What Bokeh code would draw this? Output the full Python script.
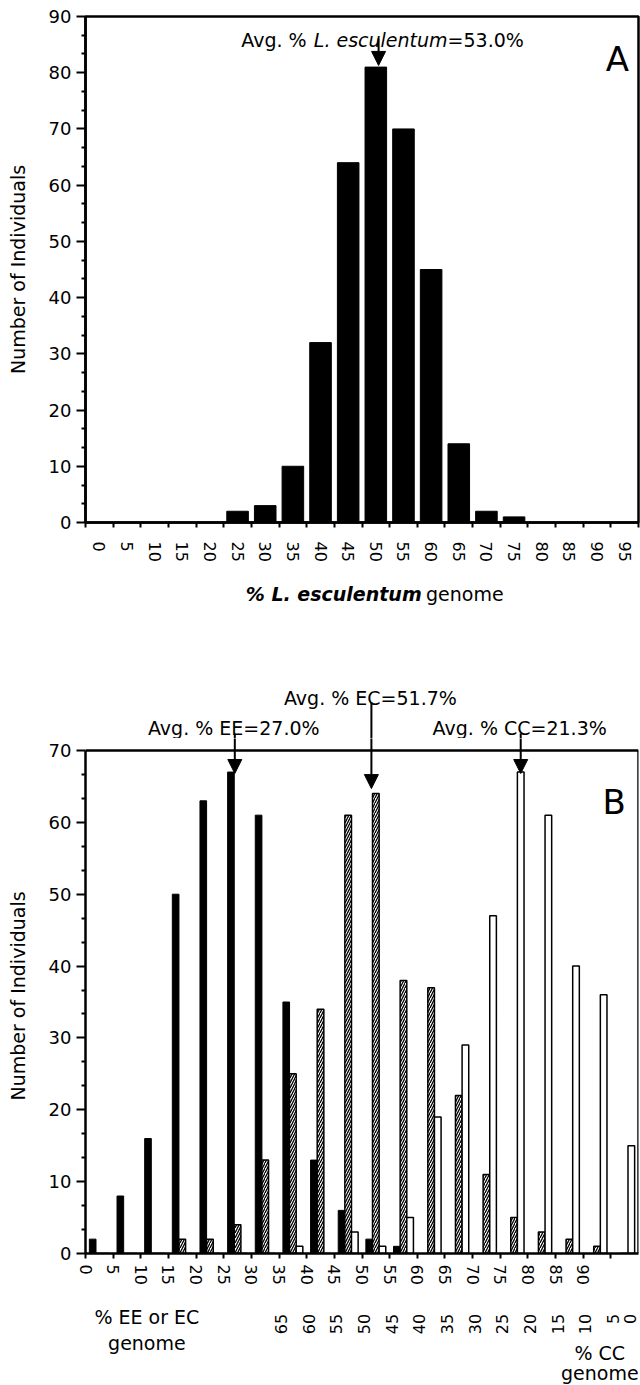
import math
from bokeh.plotting import figure
from bokeh.models import Range1d, FixedTicker, Label, Arrow, NormalHead
from bokeh.layouts import column
from bokeh.embed import file_html
from bokeh.resources import INLINE

FONT = "DejaVu Sans"

# ------------------------------------------------------------------ data
bins = [0, 5, 10, 15, 20, 25, 30, 35, 40, 45, 50, 55, 60, 65, 70, 75, 80, 85, 90, 95]
bin_labels = [str(b) for b in bins]

# Panel A : number of individuals per % L. esculentum genome class
a_counts = [0, 0, 0, 0, 0, 2, 3, 10, 32, 64, 81, 70, 45, 14, 2, 1, 0, 0, 0, 0]
a_avg = 53.0
a_avg_text = "53.0%"

# Panel B : EE (black), EC (hatched), CC (open) classes, by axis position
ee_counts = [2, 8, 16, 50, 63, 67, 61, 35, 13, 6, 2, 1, 0, 0, 0, 0, 0, 0, 0, 0]
ec_counts = [0, 0, 0, 2, 2, 4, 13, 25, 34, 61, 64, 38, 37, 22, 11, 5, 3, 2, 1, 0]
cc_counts = [0, 0, 0, 0, 0, 0, 0, 1, 0, 3, 1, 5, 19, 29, 47, 67, 61, 40, 36, 15]
cc_positions = [35, 40, 45, 50, 55, 60, 65, 70, 75, 80, 85, 90, 95, 100]
cc_labels = ["65", "60", "55", "50", "45", "40", "35", "30", "25", "20", "15", "10", "5", "0"]
ee_avg = 27.0
ec_avg = 51.7
cc_avg = 21.3

# ------------------------------------------------------------------ layout (pixels)
W = 640
LEFT, RIGHT = 85, 2
A_TOP, A_FRAME_H, A_FIG_H = 16, 506, 565
TA_H = 55
TB_H = 118
B_EXTRA = 12                  # frame space above the 70 line
B_FRAME_H_DATA = 503          # pixel height of the 0..70 part
B_BOTTOM = 40
PB_H = B_EXTRA + B_FRAME_H_DATA + B_BOTTOM
BB_H = 1385 - A_FIG_H - TA_H - TB_H - PB_H

A_YMAX, B_YMAX = 90, 70
ppy_a = A_FRAME_H / A_YMAX
ppy_b = B_FRAME_H_DATA / B_YMAX

ADV = {' ': 651, '%': 1946, '.': 651, '=': 1716, 'A': 1401, 'B': 1405, 'C': 1430,
       'E': 1294, 'L': 1141, 'a': 1255, 'c': 1126, 'e': 1260, 'g': 1300, 'l': 569,
       'm': 1995, 'n': 1298, 'o': 1253, 's': 1067, 't': 803, 'u': 1298, 'v': 1212}
for d in "0123456789":
    ADV[d] = 1303


def tw(s, size, bold=False):
    return sum(ADV.get(c, 1250) for c in s) / 2048.0 * size * (1.1 if bold else 1.0)


TXT = 19
TICK = "16px"


def lab(p, x, y, text, size=TXT, align="center", style="normal", xoff=0, angle=0,
        baseline="alphabetic"):
    p.add_layout(Label(x=x, y=y, text=text, x_offset=xoff, text_align=align,
                       text_baseline=baseline, text_font=FONT,
                       text_font_size=f"{size}px", text_font_style=style,
                       text_color="black", angle=angle))


def arrow(p, x, y0, y1, head=True):
    p.add_layout(Arrow(x_start=x, y_start=y0, x_end=x, y_end=y1, line_width=2,
                       line_color="black",
                       end=NormalHead(size=14, fill_color="black", line_color="black") if head else None))


def strip(height, y0, y1):
    p = figure(width=W, height=height, title=None,
               x_range=Range1d(0, 100), y_range=Range1d(y0, y1),
               x_axis_location=None, y_axis_location=None, min_border=0,
               min_border_left=LEFT, min_border_right=RIGHT,
               output_backend="svg", toolbar_location=None)
    p.outline_line_color = None
    p.grid.visible = False
    return p


def base_fig(height, top, bottom, ytop, ymax):
    p = figure(width=W, height=height, title=None,
               x_range=Range1d(0, 100), y_range=Range1d(0, ytop),
               output_backend="svg", toolbar_location=None,
               min_border_left=LEFT, min_border_right=RIGHT, min_border_top=top,
               min_border_bottom=bottom)
    p.xgrid.visible = False
    p.ygrid.visible = False
    p.outline_line_color = "black"
    p.outline_line_width = 2.5
    p.outline_line_alpha = 1
    ya = p.yaxis[0]
    ya.bounds = (0, ymax)
    ya.ticker = FixedTicker(ticks=list(range(0, ymax + 1, 10)),
                            minor_ticks=[i * 10 / 3 for i in range(int(ymax * 3 / 10) + 1) if i % 3])
    ya.axis_line_width = 2.5
    ya.major_tick_out = 9
    ya.major_tick_in = 0
    ya.major_tick_line_width = 2
    ya.minor_tick_out = 4
    ya.minor_tick_in = 0
    ya.minor_tick_line_width = 2
    ya.major_label_text_font = FONT
    ya.major_label_text_font_size = "18px"
    ya.major_label_text_color = "black"
    ya.major_label_standoff = 5
    ya.axis_label = "Number of Individuals"
    ya.axis_label_text_font = FONT
    ya.axis_label_text_font_size = f"{TXT}px"
    ya.axis_label_text_font_style = "normal"
    ya.axis_label_text_color = "black"
    ya.axis_label_standoff = 17
    xa = p.xaxis[0]
    xa.axis_line_width = 2.5
    xa.major_label_text_font = FONT
    xa.major_label_text_font_size = TICK
    xa.major_label_text_color = "black"
    xa.major_label_orientation = "vertical"
    return p


# ------------------------------------------------------------------ panel A
pa = base_fig(A_FIG_H, A_TOP, A_FIG_H - A_TOP - A_FRAME_H, A_YMAX, A_YMAX)
pa.vbar(x=[b + 2.5 for b in bins], top=a_counts, width=3.9,
        fill_color="black", line_color="black", line_width=1)
xa = pa.xaxis[0]
xa.ticker = FixedTicker(ticks=[b + 2.5 for b in bins], minor_ticks=bins + [100])
xa.major_label_overrides = {b + 2.5: s for b, s in zip(bins, bin_labels)}
xa.major_tick_out = 0
xa.major_tick_in = 0
xa.minor_tick_out = 5
xa.minor_tick_in = 0
xa.minor_tick_line_width = 2
xa.major_label_standoff = 14

p1, p2, p3 = "Avg. %", "L. esculentum", "=" + a_avg_text
w1, w2, w3 = tw(p1 + " ", TXT), tw(p2, TXT), tw(p3, TXT)
st = -(w1 + w2 + w3) / 2 + 4
lab(pa, a_avg, 85.9, p1, align="left", xoff=st)
lab(pa, a_avg, 85.9, p2, align="left", style="italic", xoff=st + w1)
lab(pa, a_avg, 85.9, p3, align="left", xoff=st + w1 + w2)
arrow(pa, a_avg, 86.1, 81.3)
lab(pa, 96.2, 82.5, "A", size=34)

# strip under A: axis title (mixed styles)
ya_top = -(A_FIG_H - A_TOP - A_FRAME_H) / ppy_a
ta = strip(TA_H, ya_top - TA_H / ppy_a, ya_top)
q1, q2 = "% L. esculentum", "genome"
v1, v2 = tw(q1 + " ", TXT, bold=True), tw(q2, TXT)
xs = -(v1 + v2) / 2
lab(ta, 52.3, -12.63, q1, align="left", style="bold italic", xoff=xs)
lab(ta, 52.3, -12.63, q2, align="left", xoff=xs + v1)

# ------------------------------------------------------------------ panel B
b_ytop = B_YMAX + B_EXTRA / ppy_b

# strip above B: averages text and upper part of the arrows
tb = strip(TB_H, b_ytop, b_ytop + TB_H / ppy_b)

pb = base_fig(PB_H, 0, B_BOTTOM, b_ytop, B_YMAX)
pb.outline_line_color = None
# frame box of the 0..70 region (top and right sides)
pb.segment(x0=[0, 100], y0=[B_YMAX, 0], x1=[100, 100], y1=[B_YMAX, B_YMAX],
           line_color="black", line_width=2.5)

bw = 1.2
pb.vbar(x=[b + 1.3 for b in bins], top=ee_counts, width=bw,
        fill_color="black", line_color="black", line_width=1)
pb.vbar(x=[b + 2.5 for b in bins], top=ec_counts, width=bw,
        fill_color="white", line_color="black", line_width=1.5,
        hatch_pattern="/", hatch_color="black", hatch_scale=5, hatch_weight=1.3)
pb.vbar(x=[b + 3.7 for b in bins], top=cc_counts, width=bw,
        fill_color="white", line_color="black", line_width=1.5)

xb = pb.xaxis[0]
xb.ticker = FixedTicker(ticks=bins)
xb.major_label_overrides = {95: ""}
xb.major_tick_out = 5
xb.major_tick_in = 0
xb.major_tick_line_width = 2
xb.minor_tick_line_color = None
xb.major_label_standoff = 6

avg_pos = [ee_avg, ec_avg, 100 - cc_avg]
avg_text = ["Avg. % EE=" + f"{ee_avg:.1f}%", "Avg. % EC=" + f"{ec_avg:.1f}%",
            "Avg. % CC=" + f"{cc_avg:.1f}%"]
text_y = [73.2, 77.37, 73.2]
arr_y0 = [72.36, 76.7, 72.36]
arr_y1 = [66.8, 64.7, 66.8]
for xv, t, ty, y0, y1 in zip(avg_pos, avg_text, text_y, arr_y0, arr_y1):
    lab(tb, xv, ty, t, xoff=-1)
    arrow(tb, xv, y0, y1, head=False)
    arrow(pb, xv, y0, y1)
lab(pb, 95.6, 62.9, "B", size=34)

# strip under B: CC scale and axis titles
yc_top = -B_BOTTOM / ppy_b
bb = strip(BB_H, yc_top - BB_H / ppy_b, yc_top)
for pos, s in zip(cc_positions, cc_labels):
    lab(bb, pos, -8.4, s, size=16, align="right", baseline="middle", angle=math.pi / 2,
        xoff=(-9 if pos >= 100 else 2))
lab(bb, 11.1, -8.9, "% EE or EC")
lab(bb, 11.1, -12.4, "genome")
lab(bb, 93.0, -13.8, "% CC")
lab(bb, 93.0, -16.6, "genome")

layout = column(pa, ta, tb, pb, bb)
open("out.html", "w").write(file_html(layout, INLINE))
